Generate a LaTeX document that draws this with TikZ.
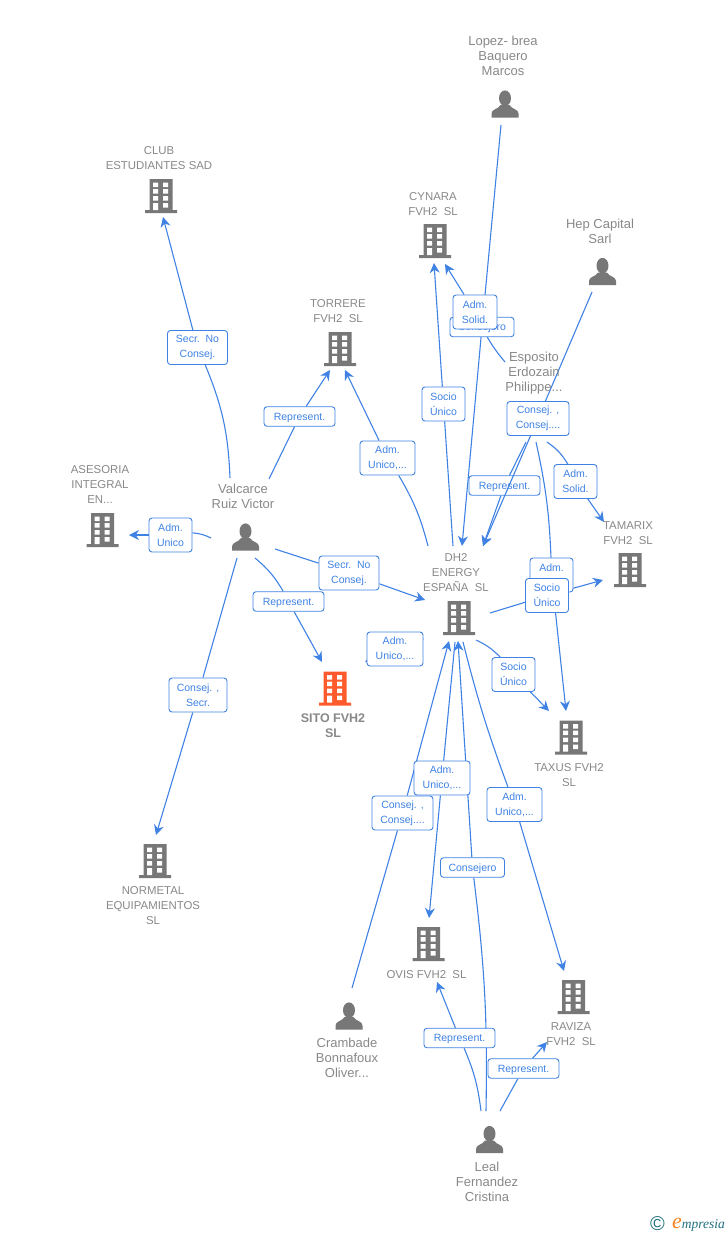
\documentclass[tikz,border=0pt]{standalone}
\usepackage{fontspec}
\setmainfont{Liberation Sans}
\newfontfamily\logofont{Liberation Serif}
\usetikzlibrary{arrows.meta,backgrounds}
\definecolor{linkblue}{HTML}{3F82E4}
\definecolor{namegrey}{HTML}{888888}
\definecolor{icongrey}{HTML}{777777}
\definecolor{sitored}{HTML}{FF5A2B}
\definecolor{logoteal}{HTML}{1F6F80}
\definecolor{logoorange}{HTML}{F58220}
% icons are drawn around the centre of their node
\newcommand{\buildingicon}[1]{
  \begin{scope}[shift={(path picture bounding box.center)}]
    \fill[#1] (-11.5,-17) rectangle (11.5,15) (-16,14) rectangle (16,17);
    \fill[white] (-8,-13.5) rectangle (-3,-9) (2,-13.5) rectangle (7,-9)
      (-8,-7) rectangle (-3,-2.5) (2,-7) rectangle (7,-2.5)
      (-8,0) rectangle (-3,4.5) (2,0) rectangle (7,4.5)
      (-8,7) rectangle (-3,14) (2,7) rectangle (7,11.5);
  \end{scope}
}
\newcommand{\personicon}{
  \begin{scope}[shift={(path picture bounding box.center)}]
    \fill[icongrey] (0,-5.8) ellipse (6 and 7.8);
    \fill[icongrey] (-13.5,13.5) -- (-13.5,9.5) .. controls (-13.5,5) and (-7,5.5) .. (-4.5,1)
      -- (4.5,1) .. controls (7,5.5) and (13.5,5) .. (13.5,9.5) -- (13.5,13.5) -- cycle;
  \end{scope}
}
\tikzset{
  building/.style={minimum width=32pt,minimum height=34pt,inner sep=0pt,
    path picture={\buildingicon{#1}}},
  building/.default=icongrey,
  person/.style={minimum width=27pt,minimum height=27pt,inner sep=0pt,
    path picture={\personicon}},
  nametxt/.style={text=namegrey,align=center,inner sep=0pt,font=\fontsize{13}{15}\selectfont},
  firmtxt/.style={nametxt,yshift=-0.8pt,font=\fontsize{11.4}{15}\selectfont},
  lab/.style={draw=linkblue,fill=white,rounded corners=3pt,line width=0.9pt,text=linkblue,
    align=center,inner xsep=1pt,inner ysep=2pt,minimum width=#1,minimum height=34pt,
    font=\fontsize{10.5}{15}\selectfont,execute at begin node={\rule{0pt}{9.5pt}}},
  labone/.style={lab=#1,minimum height=19.5pt},
  link/.style={draw=linkblue,line width=1.1pt},
  tolink/.style={link,-{Stealth[length=10pt,width=10pt]}}
}

\begin{document}
\begin{tikzpicture}[x=1pt,y=-1pt]
	\useasboundingbox (0,0) rectangle (728,1235);
	% people
	\node[person] (lopez) at (505,104) {};
	\node[nametxt] (lopeztxt) at (503,56) {Lopez- brea\\Baquero\\Marcos};
	\node[person] (hep) at (602.5,271.5) {};
	\node[nametxt] (heptxt) at (600,231.5) {Hep Capital\\Sarl};
	\node[nametxt] (espositotxt) at (534,373) {Esposito\\Erdozain\\Philippe...};
	\node[person] (valcarce) at (245.5,537) {};
	\node[nametxt] (valcarcetxt) at (243,496.5) {Valcarce\\Ruiz Victor};
	\node[person] (crambade) at (349,1016) {};
	\node[nametxt] (crambadetxt) at (347,1058) {Crambade\\Bonnafoux\\Oliver...};
	\node[person] (leal) at (489.5,1139.5) {};
	\node[nametxt] (lealtxt) at (487,1182) {Leal\\Fernandez\\Cristina};
	% companies
	\node[building] (club) at (161,196) {};
	\node[firmtxt] (clubtxt) at (159,157.5) {CLUB\\ESTUDIANTES SAD};
	\node[building] (cynara) at (435,241) {};
	\node[firmtxt] (cynaratxt) at (433,203.5) {CYNARA\\FVH2\ \ SL};
	\node[building] (torrere) at (340,349) {};
	\node[firmtxt] (torreretxt) at (338,310.5) {TORRERE\\FVH2\ \ SL};
	\node[building] (asesoria) at (102.5,530) {};
	\node[firmtxt] (asesoriatxt) at (100,484) {ASESORIA\\INTEGRAL\\EN...};
	\node[building] (dh2) at (459,618) {};
	\node[firmtxt] (dh2txt) at (456,572) {DH2\\ENERGY\\ESPAÑA\ \ SL};
	\node[building] (tamarix) at (630,570) {};
	\node[firmtxt] (tamarixtxt) at (628,532.5) {TAMARIX\\FVH2\ \ SL};
	\node[building=sitored] (sito) at (335,688.5) {};
	\node[firmtxt,font=\fontsize{12.5}{15}\selectfont\bfseries] (sitotxt) at (333,724.5) {SITO FVH2\\SL};
	\node[building] (taxus) at (571,737.5) {};
	\node[firmtxt] (taxustxt) at (569,774.5) {TAXUS FVH2\\SL};
	\node[building] (normetal) at (155,861) {};
	\node[firmtxt] (normetaltxt) at (153,905) {NORMETAL\\EQUIPAMIENTOS\\SL};
	\node[building] (ovis) at (428.5,944) {};
	\node[firmtxt] (ovistxt) at (426.5,974) {OVIS FVH2\ \ SL};
	\node[building] (raviza) at (573.5,997) {};
	\node[firmtxt] (ravizatxt) at (571,1033.5) {RAVIZA\\FVH2\ \ SL};
	% labels on the connectors
	\node[lab=60pt] (clublab) at (197.5,347.5) {Secr.\ \ No\\Consej.};
	\node[labone=71pt] (torrerelab) at (299.5,416.5) {Represent.};
	\node[lab=55pt] (dh2torrerelab) at (387.5,458) {Adm.\\Unico,...};
	\node[lab=43pt] (dh2cynaralab) at (443.5,404) {Socio\\Único};
	\node[labone=64pt] (lopezlab) at (482,327) {Consejero};
	\node[lab=44pt] (espcynaralab) at (475,312) {Adm.\\Solid.};
	\node[lab=62pt] (heplab) at (538,418.5) {Consej. ,\\Consej....};
	\node[labone=71pt] (espdh2lab) at (504.5,485.5) {Represent.};
	\node[lab=43pt] (esptamarixlab) at (575.5,481.5) {Adm.\\Solid.};
	\node[lab=43pt] (asesorialab) at (170.5,535) {Adm.\\Unico};
	\node[lab=60pt] (vcdh2lab) at (349,573) {Secr.\ \ No\\Consej.};
	\node[labone=71pt] (sitolab) at (288.5,601.5) {Represent.};
	\node[lab=58pt] (normetallab) at (198,695) {Consej. ,\\Secr.};
	\node[lab=56pt] (dh2sitolab) at (395,649) {Adm.\\Unico,...};
	\node[lab=43pt] (esptaxuslab) at (551.5,575) {Adm.\\\mbox{}};
	\node[lab=43pt] (dh2tamarixlab) at (547,595.5) {Socio\\Único};
	\node[lab=43pt] (dh2taxuslab) at (513.5,674.5) {Socio\\Único};
	\node[lab=56pt] (dh2ovislab) at (442,778) {Adm.\\Unico,...};
	\node[lab=61pt] (crambadelab) at (402.5,813) {Consej. ,\\Consej....};
	\node[lab=55pt] (dh2ravizalab) at (514.5,804.5) {Adm.\\Unico,...};
	\node[labone=64pt] (lealdh2lab) at (472.5,867.5) {Consejero};
	\node[labone=71pt] (lealovislab) at (459.5,1038) {Represent.};
	\node[labone=71pt] (lealravizalab) at (523.5,1068.5) {Represent.};
	% free ends of the connectors
	\foreach \n/\x/\y in {vcclub/230/478, vctorrere/269/479, vcasesoria/211/538, vcdh2/275/549,
		vcsito/255/558, vcnormetal/237/558, dhtorrere/428/546, dhcynara/453/546, lopezout/501/125,
		espcynara/505/362, hepout/592/292, espdh2/526/442, esptaxus/536/442, esptamarix/547/442,
		dhtamarix/490/613, dhtaxus/476/640, dhsito/420/640, dhovis/455/642, dhraviza/463/642,
		crambout/352/988, lealdh2/486/1111, lealovis/481/1111, lealraviza/500/1111,
		inclub/163/217, intorrere/330/370, intorrerb/345/370, inasesoria/129/535, indha/425/600,
		insito/322/662, innormetal/156/835, incynara/434/263, incynarb/445/264, indhb/462/546,
		indhc/483/546, intaxusa/566/711, intaxusb/549/711, intamarixa/604/522, intamarixb/603/580,
		insitob/365/662, indhd/449/641, indhe/458/641, inovisa/429/918, inovisb/437/982,
		inravizaa/564/971, inravizab/547/1042}
		\coordinate (\n) at (\x,\y);
	\begin{scope}[on background layer]
		\foreach \a/\l/\b/\ba/\bb in {
			vcclub/clublab/inclub/10/0, vctorrere/torrerelab/intorrere/0/0,
			vcasesoria/asesorialab/inasesoria/10/0, vcdh2/vcdh2lab/indha/0/0,
			vcsito/sitolab/insito/-10/0, vcnormetal/normetallab/innormetal/0/0,
			dhtorrere/dh2torrerelab/intorrerb/8/0, dhcynara/dh2cynaralab/incynara/0/0,
			lopezout/lopezlab/indhb/0/0, espcynara/espcynaralab/incynarb/-6/0,
			espdh2/espdh2lab/indhc/0/0, esptaxus/esptaxuslab/intaxusa/-5/0,
			esptamarix/esptamarixlab/intamarixa/-12/0, dhtamarix/dh2tamarixlab/intamarixb/0/0,
			dhtaxus/dh2taxuslab/intaxusb/-10/0, dhsito/dh2sitolab/insitob/0/0,
			crambout/crambadelab/indhd/0/0, dhovis/dh2ovislab/inovisa/0/0,
			lealdh2/lealdh2lab/indhe/4/0, dhraviza/dh2ravizalab/inravizaa/3/0,
			lealovis/lealovislab/inovisb/8/0, lealraviza/lealravizalab/inravizab/0/0}
		{
			\draw[link] (\a) to[bend right=\ba] (\l);
			\draw[tolink] (\l) to[bend right=\bb] (\b);
		}
		\draw[link] (hepout) -- (heplab);
	\end{scope}
	% this one runs over the box below it
	\draw[tolink] (heplab) -- (indhc);
	% logo
	\node[text=logoteal,inner sep=0pt,font=\fontsize{20}{20}\selectfont] (logoc) at (657.5,1224) {©};
	\node[text=logoteal,inner sep=0pt,font=\logofont\itshape\fontsize{13.5}{15}\selectfont] (logo) at (698.5,1225)
		{{\color{logoorange}\fontsize{22}{22}\selectfont e}mpresia};
\end{tikzpicture}
\end{document}
